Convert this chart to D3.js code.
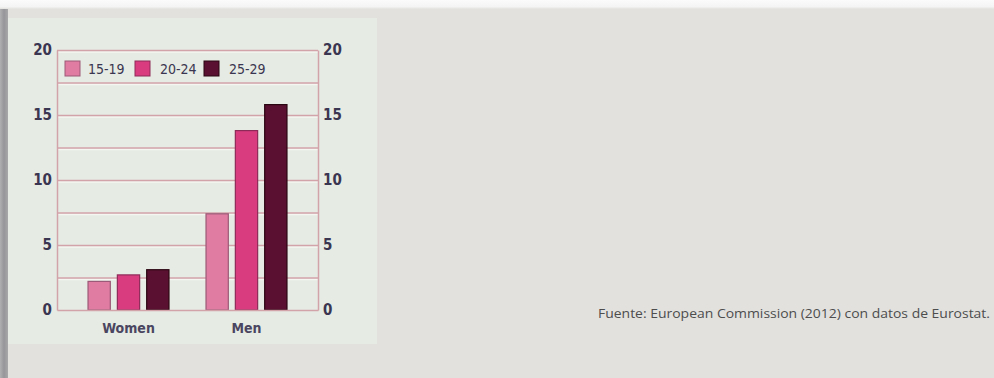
<!DOCTYPE html>
<html><head><meta charset="utf-8">
<script src="https://cdn.jsdelivr.net/npm/d3@7"></script>
<style>
html,body{margin:0;padding:0;background:#e2e1de;}
svg{display:block;}
.cond{font-family:"Liberation Sans Narrow","DejaVu Sans Condensed","Roboto Condensed","Open Sans",sans-serif;font-stretch:condensed;}
</style></head>
<body>
<svg id="c" width="994" height="378"></svg>
<script>
const groups = ["Women", "Men"];
const series = ["15-19", "20-24", "25-29"];
const values15_19 = [2.2, 7.4];
const values20_24 = [2.7, 13.8];
const values25_29 = [3.1, 15.8];
const yTicks = [0, 5, 10, 15, 20];
const gridTicks = [2.5, 5, 7.5, 10, 12.5, 15, 17.5, 20];
const colors = ["#e07ba2", "#da3c80", "#5a1030"];
const strokes = ["#9c5a78", "#8e2a58", "#2a0612"];
const source = "Fuente: European Commission (2012) con datos de Eurostat.";

(function(){
const svg = d3.select("#c");

const defs = svg.append("defs");
const gTop = defs.append("linearGradient").attr("id","topg").attr("x1",0).attr("y1",0).attr("x2",0).attr("y2",1);
gTop.append("stop").attr("offset","0%").attr("stop-color","#fbfbfb");
gTop.append("stop").attr("offset","75%").attr("stop-color","#f4f4f4");
gTop.append("stop").attr("offset","100%").attr("stop-color","#e2e1de");
const gLeft = defs.append("linearGradient").attr("id","leftg").attr("x1",0).attr("y1",0).attr("x2",1).attr("y2",0);
gLeft.append("stop").attr("offset","0%").attr("stop-color","#b0b0b2");
gLeft.append("stop").attr("offset","50%").attr("stop-color","#96969a");
gLeft.append("stop").attr("offset","100%").attr("stop-color","#a8a8aa");

svg.append("rect").attr("x",0).attr("y",0).attr("width",994).attr("height",378).attr("fill","#e2e1de");
svg.append("rect").attr("x",0).attr("y",0).attr("width",994).attr("height",9).attr("fill","url(#topg)");
svg.append("rect").attr("x",0).attr("y",9).attr("width",8).attr("height",369).attr("fill","url(#leftg)");

svg.append("rect").attr("x",8).attr("y",18).attr("width",369).attr("height",326).attr("fill","#e6ebe3");

const mLeft = 57, mRight = 318, mTop = 50, mBottom = 310;
const y = d3.scaleLinear().domain([0, 20]).range([mBottom, mTop]);
const x0 = d3.scaleBand().domain(groups).range([mLeft, mRight]).paddingInner(0.314).paddingOuter(0.263);
const x1 = d3.scaleBand().domain(series).range([0, x0.bandwidth()]).paddingInner(0.24);

const gridCol = "#d3a3aa";

svg.append("g").selectAll("line").data(gridTicks).join("line")
  .attr("x1", mLeft).attr("x2", mRight)
  .attr("y1", d => y(d) + 2).attr("y2", d => y(d) + 2)
  .attr("stroke", "#f4f6f1").attr("stroke-width", 1.5);

const grid = svg.append("g").attr("transform", `translate(${mLeft},0)`)
  .call(d3.axisRight(y).tickValues(gridTicks).tickSize(mRight - mLeft).tickFormat(""));
grid.select(".domain").remove();
grid.selectAll("line").attr("stroke", gridCol).attr("stroke-width", 1.3);

const legend = svg.append("g");
const legX = [65, 135, 204];
const legTX = [88, 160, 229];
series.forEach((s, i) => {
  legend.append("rect").attr("x", legX[i]).attr("y", 61).attr("width", 15).attr("height", 15)
    .attr("fill", colors[i]).attr("stroke", strokes[i]).attr("stroke-width", 1);
  legend.append("text").attr("class","cond").attr("x", legTX[i]).attr("y", 73.5)
    .attr("font-size", 14).attr("fill", "#3a3550").text(s);
});

const seriesVals = [values15_19, values20_24, values25_29];
const barG = svg.append("g");
groups.forEach((g, gi) => {
  series.forEach((s, si) => {
    const v = seriesVals[si][gi];
    barG.append("rect")
      .attr("x", x0(g) + x1(s))
      .attr("y", y(v))
      .attr("width", x1.bandwidth())
      .attr("height", y(0) - y(v))
      .attr("fill", colors[si])
      .attr("stroke", strokes[si]).attr("stroke-width", 1.2);
  });
});

const axL = svg.append("g").attr("transform", `translate(${mLeft},0)`)
  .call(d3.axisLeft(y).tickValues(yTicks).tickSize(0).tickPadding(5));
const axR = svg.append("g").attr("transform", `translate(${mRight},0)`)
  .call(d3.axisRight(y).tickValues(yTicks).tickSize(0).tickPadding(5));
[axL, axR].forEach(a => {
  a.select(".domain").attr("stroke", gridCol).attr("stroke-width", 1.5);
  a.selectAll("text").attr("class","cond").attr("font-size", 15).attr("font-weight", "bold")
    .attr("fill", "#3a3550");
});

const axB = svg.append("g").attr("transform", `translate(0,${mBottom})`)
  .call(d3.axisBottom(x0).tickSize(0).tickPadding(13));
axB.select(".domain").attr("stroke", gridCol).attr("stroke-width", 1.5);
axB.selectAll("text").attr("class","cond").attr("font-size", 14).attr("font-weight","bold").attr("fill", "#4a4560");

svg.append("text").attr("x", 990).attr("y", 318).attr("text-anchor", "end")
  .attr("font-family", "'Open Sans', Lato, sans-serif").attr("font-size", 13.5)
  .attr("textLength", 392).attr("lengthAdjust", "spacingAndGlyphs")
  .attr("fill", "#4d4d4d").text(source);
})();
</script>
</body></html>
